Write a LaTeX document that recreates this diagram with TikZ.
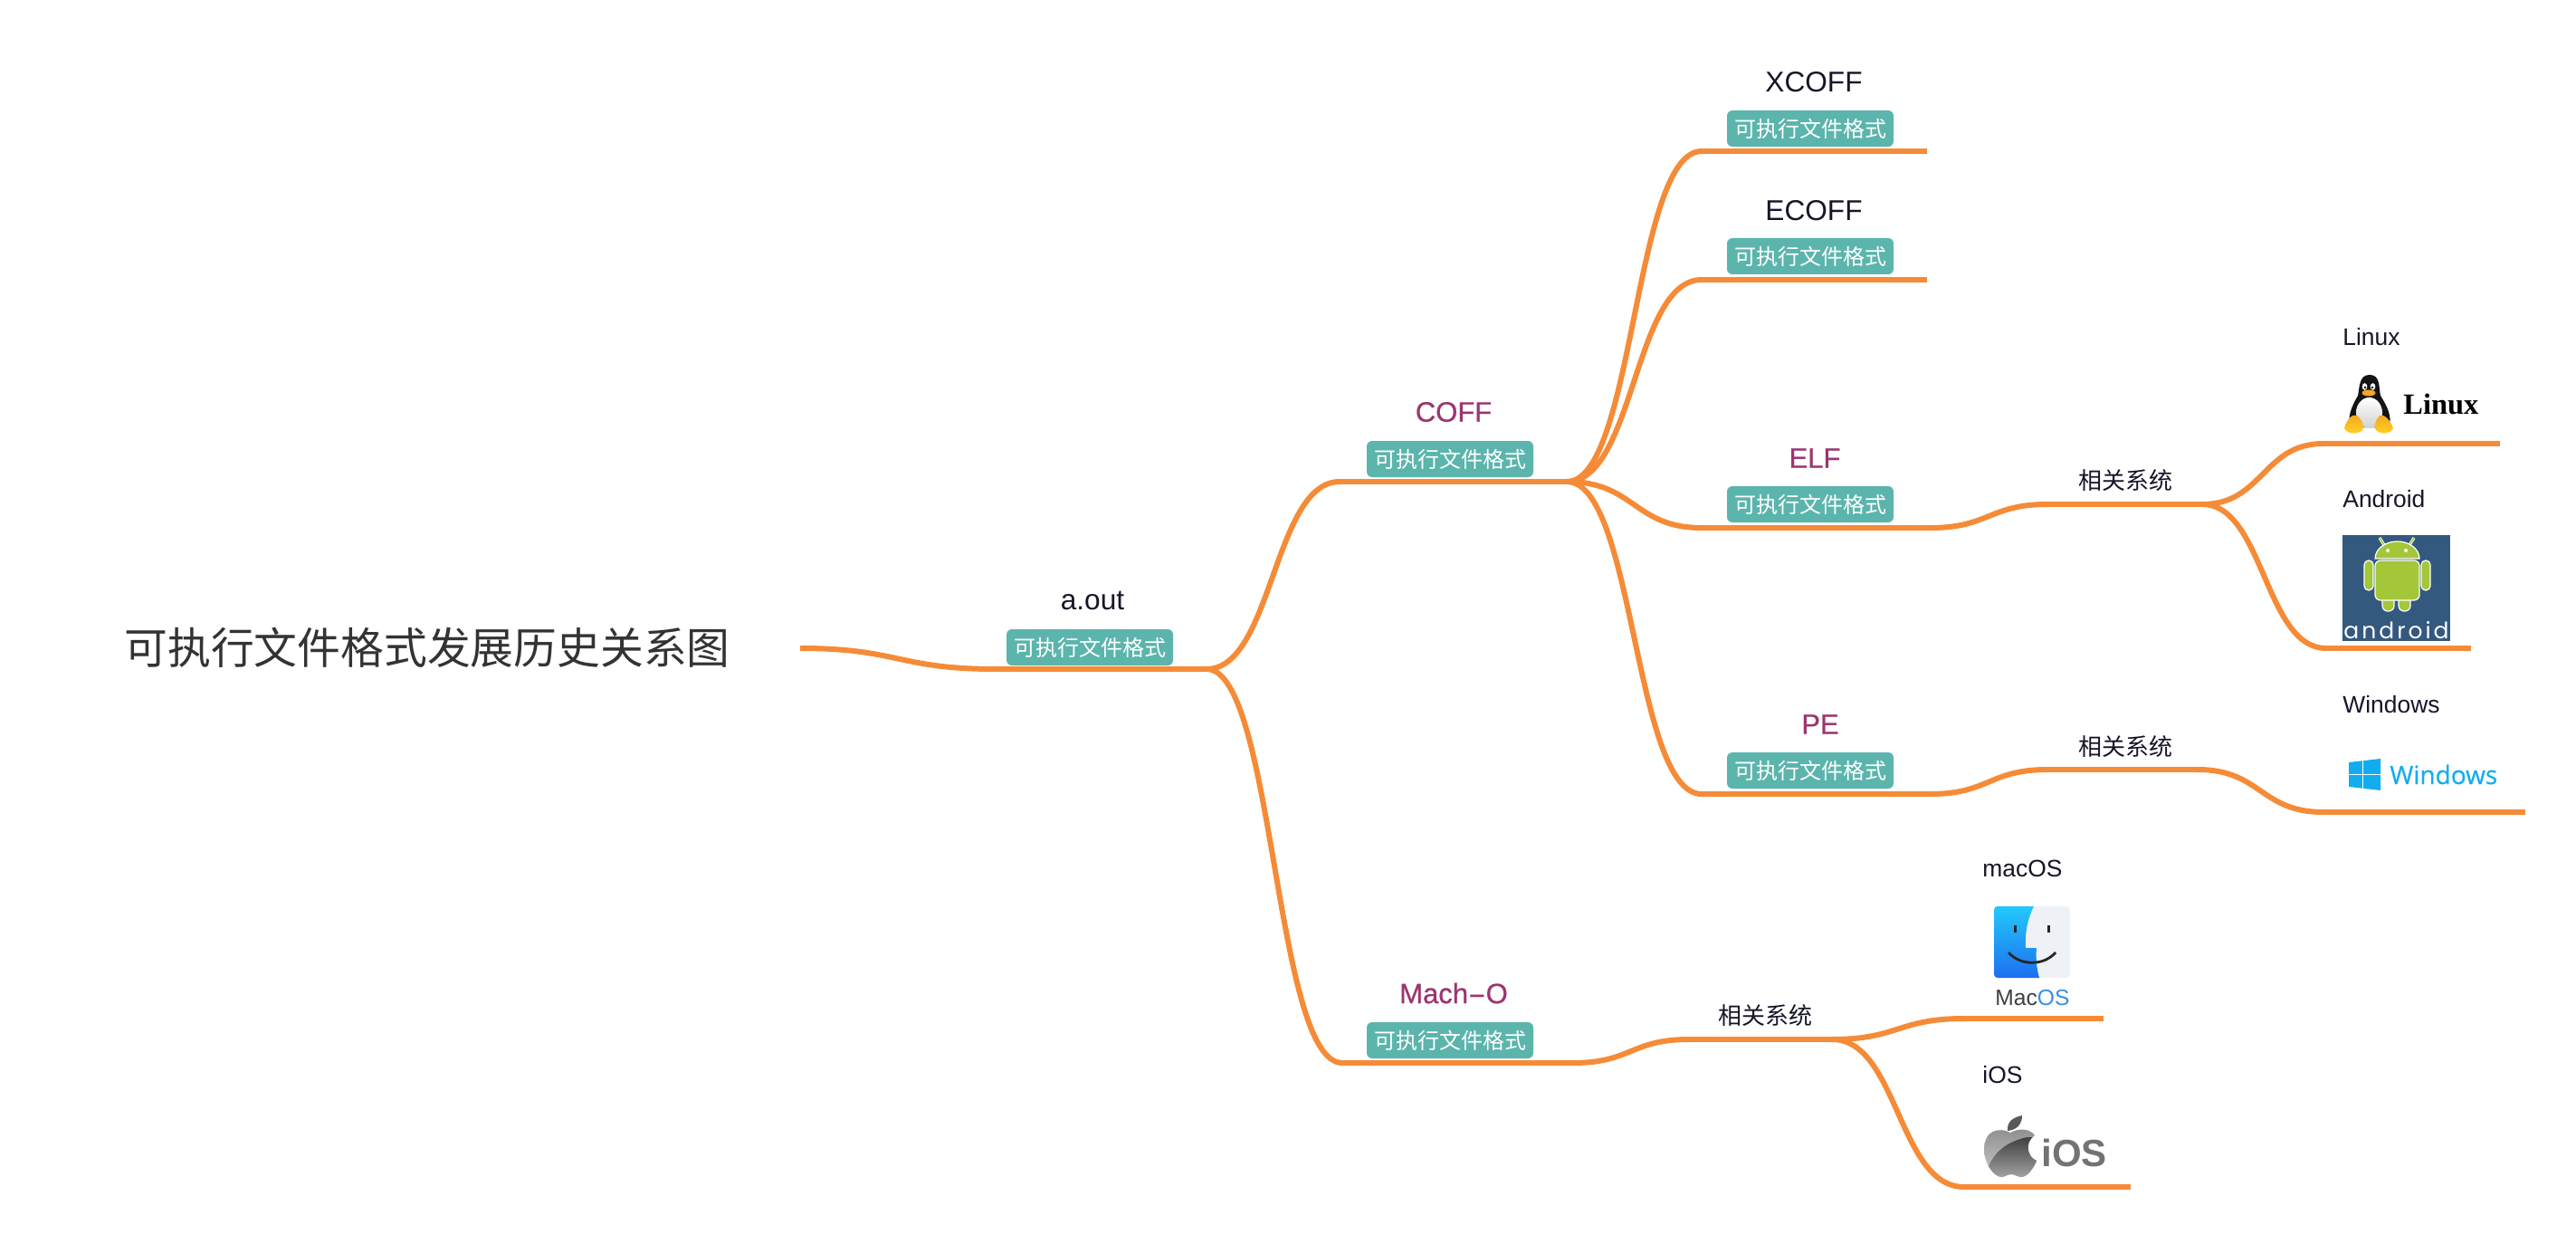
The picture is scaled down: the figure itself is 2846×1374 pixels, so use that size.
\documentclass[tikz,border=0pt]{standalone}
\usepackage{fontspec}
\setmainfont{Liberation Sans}
\newfontfamily\cjk{Noto Sans CJK SC}
\newfontfamily\serifb{Liberation Serif}
\newfontfamily\opens{Open Sans}
\newfontfamily\opensb[FakeBold=0.5]{Open Sans}
\newfontfamily\poppinsf[LetterSpace=12]{Poppins}
\newfontfamily\hotf[FakeBold=0.6]{Liberation Sans}
\definecolor{branchc}{HTML}{F68B37}
\definecolor{tagc}{HTML}{5BB5AC}
\definecolor{inkc}{HTML}{16162A}
\definecolor{purp}{HTML}{9B3570}
\definecolor{andblue}{HTML}{34597F}
\definecolor{andgreen}{HTML}{A4C639}
\definecolor{winblue}{HTML}{12ADEF}
\definecolor{finderhi}{HTML}{23C9FC}
\definecolor{finderlo}{HTML}{1D6FF0}
\definecolor{finderr}{HTML}{EEF2F7}
\definecolor{foothi}{HTML}{F5A623}
\definecolor{footlo}{HTML}{FFD21F}
\tikzset{
  branch/.style={draw=branchc,line width=3pt,line join=round},
  tagbox/.style={fill=tagc,text=white,rounded corners=3pt,inner sep=0pt,minimum width=92pt,minimum height=20pt,font=\cjk\fontsize{12}{12}\selectfont},
  mainlabel/.style={text=inkc,inner sep=0pt,font=\fontsize{15.8}{16}\selectfont},
  hotlabel/.style={text=purp,inner sep=0pt,font=\hotf\fontsize{15.5}{16}\selectfont},
  oslabel/.style={text=inkc,inner sep=0pt,anchor=west,font=\fontsize{13.2}{14}\selectfont},
  rellabel/.style={text=inkc,inner sep=0pt,font=\cjk\fontsize{13}{14}\selectfont},
  andpart/.style={fill=andgreen,draw=white,line width=0.6pt},
}
\newcommand{\curve}[3]{\draw[branch] (#1) .. controls +(#3,0) and +(-#3,0) .. (#2);}
\begin{document}
\begin{tikzpicture}[x=0.5pt,y=-0.5pt]
\useasboundingbox (0,0) rectangle (2846,1374);
\fill[white] (0,0) rectangle (2846,1374);
% junctions and line ends
\coordinate (r0) at (884,716);
\coordinate (a0) at (1100,739); \coordinate (a1) at (1333,739);
\coordinate (c0) at (1480,532); \coordinate (c1) at (1731,532);
\coordinate (m0) at (1483,1174); \coordinate (m1) at (1738,1174);
\coordinate (x0) at (1880,167); \coordinate (x1) at (2129,167);
\coordinate (e0) at (1880,309); \coordinate (e1) at (2129,309);
\coordinate (l0) at (1880,583); \coordinate (l1) at (2133,583);
\coordinate (p0) at (1880,877); \coordinate (p1) at (2133,877);
\coordinate (lr0) at (2262,557); \coordinate (lr1) at (2433,557);
\coordinate (pr0) at (2262,850); \coordinate (pr1) at (2428,850);
\coordinate (mr0) at (1866,1148); \coordinate (mr1) at (2024,1148);
\coordinate (li0) at (2567,490); \coordinate (li1) at (2762,490);
\coordinate (an0) at (2570,716); \coordinate (an1) at (2730,716);
\coordinate (wi0) at (2567,897); \coordinate (wi1) at (2790,897);
\coordinate (mc0) at (2170,1125); \coordinate (mc1) at (2324,1125);
\coordinate (io0) at (2170,1311); \coordinate (io1) at (2354,1311);
% connectors
\curve{r0}{a0}{108}
\draw[branch] (a0) -- (a1);
\curve{a1}{c0}{73}
\draw[branch] (c0) -- (c1);
\curve{a1}{m0}{75}
\draw[branch] (m0) -- (m1);
\curve{c1}{x0}{75}
\draw[branch] (x0) -- (x1);
\curve{c1}{e0}{75}
\draw[branch] (e0) -- (e1);
\curve{c1}{l0}{75}
\draw[branch] (l0) -- (l1);
\curve{c1}{p0}{75}
\draw[branch] (p0) -- (p1);
\curve{l1}{lr0}{64}
\draw[branch] (lr0) -- (lr1);
\curve{p1}{pr0}{64}
\draw[branch] (pr0) -- (pr1);
\curve{m1}{mr0}{64}
\draw[branch] (mr0) -- (mr1);
\curve{lr1}{li0}{67}
\draw[branch] (li0) -- (li1);
\curve{lr1}{an0}{68}
\draw[branch] (an0) -- (an1);
\curve{pr1}{wi0}{70}
\draw[branch] (wi0) -- (wi1);
\curve{mr1}{mc0}{73}
\draw[branch] (mc0) -- (mc1);
\curve{mr1}{io0}{73}
\draw[branch] (io0) -- (io1);
% texts
\node[text=black!80,inner sep=0pt,font=\cjk\fontsize{23.9}{24}\selectfont] (root) at (472,715) {可执行文件格式发展历史关系图};
\node[mainlabel] (aout) at (1207,663) {a.out};
\node[tagbox] (aoutt) at (1204,715) {可执行文件格式};
\node[hotlabel] (coff) at (1606,455) {COFF};
\node[tagbox] (cofft) at (1602,507) {可执行文件格式};
\node[hotlabel] (mach) at (1606,1097) {Mach\scalebox{1.9}[1]{-}O};
\node[tagbox] (macht) at (1602,1149) {可执行文件格式};
\node[mainlabel] (xc) at (2004,91) {XCOFF};
\node[tagbox] (xct) at (2000,142) {可执行文件格式};
\node[mainlabel] (ec) at (2004,233) {ECOFF};
\node[tagbox] (ect) at (2000,283) {可执行文件格式};
\node[hotlabel] (elf) at (2005,506) {ELF};
\node[tagbox] (elft) at (2000,557) {可执行文件格式};
\node[hotlabel] (pe) at (2011,800) {PE};
\node[tagbox] (pet) at (2000,851) {可执行文件格式};
\node[rellabel] (r1) at (2348,531) {相关系统};
\node[rellabel] (r2) at (2348,825) {相关系统};
\node[rellabel] (r3) at (1950,1122) {相关系统};
\node[oslabel] (tl) at (2588,372) {Linux};
\node[oslabel] (ta) at (2588,551) {Android};
\node[oslabel] (tw) at (2588,778) {Windows};
\node[oslabel] (tm) at (2190,959) {macOS};
\node[oslabel] (ti) at (2190,1187) {iOS};
% Linux logo
\fill[black!92] (2618,414) .. controls (2606,414) and (2607,428) .. (2605,437) .. controls (2599,447) and (2592,462) .. (2597,472) -- (2639,472) .. controls (2644,460) and (2636,447) .. (2630,437) .. controls (2628,428) and (2630,414) .. (2618,414) -- cycle;
\shade[top color=white,bottom color=black!18] (2617.5,456) ellipse (14.5 and 17);
\fill[white] (2612.5,427) ellipse (2.8 and 3.8) (2621.5,427) ellipse (2.8 and 3.8);
\fill[black] (2613,428) circle (1.3) (2621,428) circle (1.3);
\fill[foothi] (2617,434) ellipse (7.5 and 3.5);
\shade[top color=foothi,bottom color=footlo] (2590,473) .. controls (2593,462) and (2599,457) .. (2604,459) .. controls (2611,465) and (2612,472) .. (2610,475) .. controls (2604,480) and (2594,480) .. (2590,473) -- cycle;
\shade[top color=foothi,bottom color=footlo] (2644,473) .. controls (2641,465) and (2635,457) .. (2629,459) .. controls (2624,464) and (2622,472) .. (2625,475) .. controls (2631,480) and (2640,480) .. (2644,473) -- cycle;
\node[anchor=base west,inner sep=0pt,text=black,font=\serifb\bfseries\fontsize{16.2}{17}\selectfont] (logol) at (2655,457) {Linux};
% Android logo
\fill[andblue] (2588,591) rectangle (2707,708);
\draw[white,line width=1.6pt] (2634,602) -- (2629,594) (2662,602) -- (2667,594);
\draw[andgreen,line width=0.7pt] (2634,602) -- (2629,594) (2662,602) -- (2667,594);
\draw[andpart] (2624,617) arc[start angle=180,end angle=360,x radius=24.5,y radius=19] -- cycle;
\fill[white] (2638,608) circle (2) (2658,608) circle (2);
\draw[andpart,rounded corners=3pt] (2632,655) rectangle (2645,675);
\draw[andpart,rounded corners=3pt] (2650,655) rectangle (2663,675);
\draw[andpart,rounded corners=3pt] (2624,619) rectangle (2673,663);
\draw[andpart,rounded corners=2.4pt] (2612,619) rectangle (2622,652);
\draw[andpart,rounded corners=2.4pt] (2675,619) rectangle (2685,652);
\node[inner sep=0pt,text=white,font=\poppinsf\fontsize{12.5}{13}\selectfont] (logoa) at (2647.5,696) {android};
% Windows logo
\fill[winblue] (2595,842) -- (2630,838) -- (2630,873) -- (2595,869) -- cycle;
\draw[white,line width=0.4pt] (2610,840) -- (2610,871) (2595,855.5) -- (2630,855.5);
\node[anchor=base west,inner sep=0pt,text=winblue,font=\opensb\fontsize{14}{15}\selectfont] (logow) at (2640,866) {Windows};
% Finder logo
\begin{scope}
\path[clip,rounded corners=2pt] (2203,1001) rectangle (2287,1080);
\fill[finderr] (2203,1001) rectangle (2287,1080);
\shade[top color=finderhi,bottom color=finderlo] (2203,1001) -- (2247,1001) .. controls (2240,1015) and (2237,1030) .. (2238,1047) -- (2250,1047) .. controls (2249,1058) and (2250,1070) .. (2253,1080) -- (2203,1080) -- cycle;
\end{scope}
\draw[black!85,line width=1.5pt] (2226,1022) -- (2226,1030) (2263,1022) -- (2263,1030);
\draw[black!85,line width=1.4pt] (2219,1052) .. controls (2232,1067) and (2258,1067) .. (2271,1052);
\node[anchor=west,inner sep=0pt,font=\fontsize{12.3}{13}\selectfont] (logom) at (2204,1102) {\textcolor{black!75}{Mac}\textcolor[HTML]{3A8EE6}{OS}};
% iOS logo
\begin{scope}
\path[clip] (2221,1251) .. controls (2210,1245) and (2192,1247) .. (2192,1270) .. controls (2192,1285) and (2203,1300) .. (2211,1300) .. controls (2215,1300) and (2218,1297) .. (2222,1297) .. controls (2226,1297) and (2229,1300) .. (2233,1300) .. controls (2240,1300) and (2247,1290) .. (2250,1282) .. controls (2240,1278) and (2236,1262) .. (2248,1254) .. controls (2242,1246) and (2230,1246) .. (2221,1251) -- cycle;
\shade[top color=black!45,bottom color=black!20] (2190,1244) rectangle (2252,1302);
\shade[top color=black!75,bottom color=black!35] (2197,1288) .. controls (2205,1270) and (2220,1260) .. (2240,1256) -- (2252,1256) -- (2252,1302) -- (2200,1302) -- cycle;
\end{scope}
\fill[black!65] (2218,1249) .. controls (2217,1238) and (2225,1234) .. (2234,1232) .. controls (2234,1242) and (2228,1248) .. (2218,1249) -- cycle;
\node[anchor=base west,inner sep=0pt,text=black!55,font=\bfseries\fontsize{21}{22}\selectfont] (logoi) at (2255,1288) {iOS};
\end{tikzpicture}
\end{document}
